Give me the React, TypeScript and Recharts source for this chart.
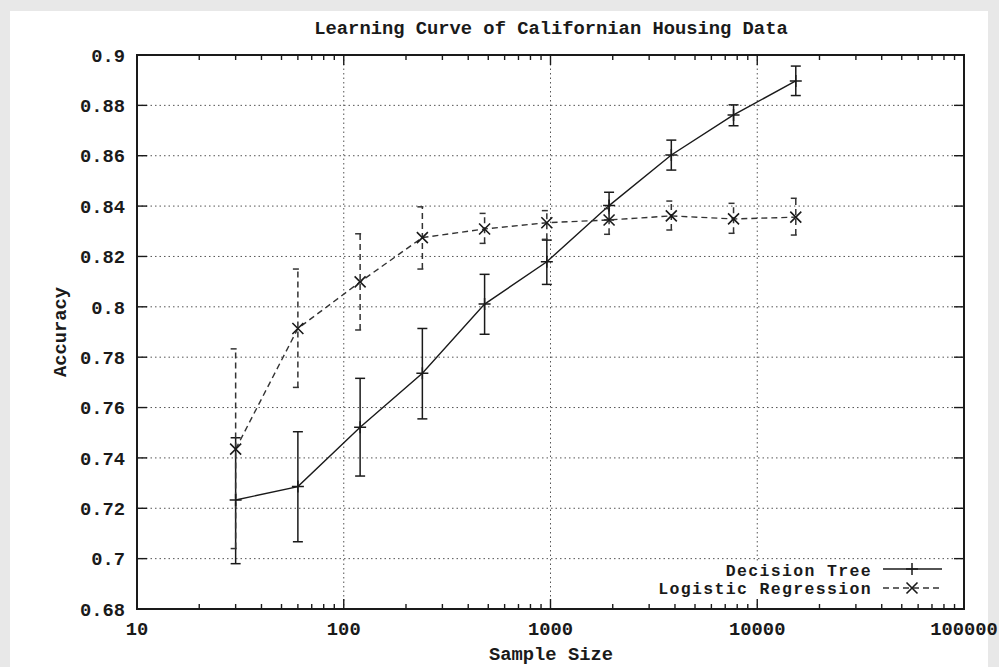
import React from 'react';
import { ComposedChart, Line, XAxis, YAxis, CartesianGrid, ErrorBar, Customized } from 'recharts';

// ---- data ----
const sampleSizes = [30, 60, 120, 240, 480, 960, 1920, 3840, 7680, 15360];
const treeMean = [0.7233, 0.7286, 0.7522, 0.7736, 0.8011, 0.8179, 0.8402, 0.8603, 0.8762, 0.8897];
const treeLow = [0.698, 0.7067, 0.7328, 0.7555, 0.7891, 0.8089, 0.8345, 0.8543, 0.8719, 0.8839];
const treeHigh = [0.748, 0.7504, 0.7716, 0.7914, 0.8129, 0.8265, 0.8455, 0.8662, 0.8802, 0.8956];
const logMean = [0.7435, 0.7914, 0.8099, 0.8275, 0.8309, 0.8334, 0.8345, 0.8361, 0.8349, 0.8356];
const logLow = [0.704, 0.768, 0.7908, 0.815, 0.8252, 0.8268, 0.8288, 0.8305, 0.8292, 0.8285];
const logHigh = [0.7833, 0.815, 0.829, 0.8397, 0.8371, 0.8382, 0.839, 0.842, 0.8411, 0.8431];

const seriesNames = ['Decision Tree', 'Logistic Regression'];
const titleText = 'Learning Curve of Californian Housing Data';
const xLabel = 'Sample Size';
const yLabel = 'Accuracy';

const yTicks = [0.68, 0.7, 0.72, 0.74, 0.76, 0.78, 0.8, 0.82, 0.84, 0.86, 0.88, 0.9];
const xMajor = [10, 100, 1000, 10000, 100000];
const xMinorMultipliers = [2, 3, 4, 5, 6, 7, 8, 9];
const xTicks: number[] = [];
xMajor.forEach((d, i) => {
  xTicks.push(d);
  if (i < xMajor.length - 1) xMinorMultipliers.forEach((m) => xTicks.push(d * m));
});

const data = sampleSizes.map((n, i) => ({
  n,
  dt: treeMean[i],
  dtErr: [treeMean[i] - treeLow[i], treeHigh[i] - treeMean[i]],
  lr: logMean[i],
  lrErr: [logMean[i] - logLow[i], logHigh[i] - logMean[i]],
}));

// ---- layout ----
const W = 999;
const H = 667;
const PL = 137;
const PT = 55;
const PR = 964;
const PB = 609;
const XAXIS_H = 30;
const YAXIS_W = 40;
const M = { top: PT, right: W - PR, left: PL - YAXIS_W, bottom: H - PB - XAXIS_H };
const PW = PR - PL;
const PH = PB - PT;
const FONT = "'Liberation Mono', 'DejaVu Sans Mono', 'Courier New', monospace";
const FS = 18.8;
const INK = '#1a1a1a';

const txt = { fontFamily: FONT, fontWeight: 700, fontSize: FS, fill: INK } as const;

const BottomTick = (props: any) => {
  const { x, y, payload } = props;
  const v = payload.value;
  const major = xMajor.includes(v);
  const len = major ? 10 : 5;
  return (
    <g>
      <line x1={x} y1={y} x2={x} y2={y - len} stroke={INK} strokeWidth={1.4} />
      <line x1={x} y1={y - PH} x2={x} y2={y - PH + len} stroke={INK} strokeWidth={1.4} />
      {major && (
        <text x={x} y={y + 26} textAnchor="middle" {...txt}>
          {String(v)}
        </text>
      )}
    </g>
  );
};

const LeftTick = (props: any) => {
  const { x, y, payload } = props;
  return (
    <g>
      <line x1={x} y1={y} x2={x + 10} y2={y} stroke={INK} strokeWidth={1.4} />
      <line x1={x + PW} y1={y} x2={x + PW - 10} y2={y} stroke={INK} strokeWidth={1.4} />
      <text x={x - 12} y={y} dy="0.36em" textAnchor="end" {...txt}>
        {String(payload.value)}
      </text>
    </g>
  );
};

const plusPath = (cx: number, cy: number, r: number) => `M${cx - r},${cy}H${cx + r}M${cx},${cy - r}V${cy + r}`;
const crossPath = (cx: number, cy: number, r: number) =>
  `M${cx - r},${cy - r}L${cx + r},${cy + r}M${cx - r},${cy + r}L${cx + r},${cy - r}`;

const PlusDot = (p: any) => {
  const { cx, cy, index } = p;
  if (cx == null || cy == null) return <g key={`p${index}`} />;
  return <path key={`p${index}`} d={plusPath(cx, cy, 6)} stroke={INK} strokeWidth={1.5} fill="none" />;
};
const CrossDot = (p: any) => {
  const { cx, cy, index } = p;
  if (cx == null || cy == null) return <g key={`c${index}`} />;
  return <path key={`c${index}`} d={crossPath(cx, cy, 5.5)} stroke={INK} strokeWidth={1.6} fill="none" />;
};

const legTxt = { ...txt, fontSize: 16.5, letterSpacing: 1.35 } as const;

const Overlay = () => {
  const lx = 872;
  const sx1 = 883;
  const sx2 = 942;
  const mx = 912;
  return (
    <g>
      <rect x={PL} y={PT} width={PW} height={PH} fill="none" stroke={INK} strokeWidth={2} />
      <text x={551} y={34} textAnchor="middle" {...txt}>
        {titleText}
      </text>
      <text x={551} y={660} textAnchor="middle" {...txt}>
        {xLabel}
      </text>
      <text x={66} y={332} textAnchor="middle" transform="rotate(-90, 66, 332)" {...txt}>
        {yLabel}
      </text>
      {/* legend */}
      <rect x={645} y={561} width={305} height={40} fill="#fff" />
      <text x={lx} y={576} textAnchor="end" {...legTxt}>
        {seriesNames[0]}
      </text>
      <line x1={sx1} y1={569} x2={sx2} y2={569} stroke={INK} strokeWidth={1.4} />
      <path d={plusPath(mx, 569, 6)} stroke={INK} strokeWidth={1.5} />
      <text x={lx} y={594} textAnchor="end" {...legTxt}>
        {seriesNames[1]}
      </text>
      <line x1={sx1} y1={588} x2={sx2} y2={588} stroke="#333" strokeWidth={1.4} strokeDasharray="6 4" />
      <path d={crossPath(mx, 588, 5.5)} stroke={INK} strokeWidth={1.6} />
    </g>
  );
};

export default function App() {
  return (
    <div style={{ position: 'absolute', left: 0, top: 0, width: W, height: H, background: '#e8e8e8', overflow: 'hidden' }}>
      <div style={{ position: 'absolute', left: 10, top: 11, width: 978, height: H - 11, background: '#fff' }} />
      <div style={{ position: 'absolute', left: 0, top: 0 }}>
        <ComposedChart width={W} height={H} data={data} margin={M}>
          <CartesianGrid
            horizontalValues={yTicks.slice(1, -1)}
            verticalValues={xMajor.slice(1, -1)}
            stroke="#555"
            strokeWidth={1}
            strokeDasharray="1.5 3"
          />
          <XAxis
            dataKey="n"
            type="number"
            scale="log"
            domain={[10, 100000]}
            allowDataOverflow
            ticks={xTicks}
            interval={0}
            height={XAXIS_H}
            axisLine={false}
            tickLine={false}
            tickSize={0}
            tickMargin={0}
            tick={<BottomTick />}
          />
          <YAxis
            type="number"
            domain={[0.68, 0.9]}
            allowDataOverflow
            ticks={yTicks}
            interval={0}
            width={YAXIS_W}
            axisLine={false}
            tickLine={false}
            tickSize={0}
            tickMargin={0}
            tick={<LeftTick />}
          />
          <Customized component={Overlay} />
          <Line
            dataKey="dt"
            name={seriesNames[0]}
            stroke={INK}
            strokeWidth={1.4}
            dot={PlusDot}
            activeDot={false}
            isAnimationActive={false}
          >
            <ErrorBar dataKey="dtErr" direction="y" width={5} stroke={INK} strokeWidth={1.5} />
          </Line>
          <Line
            dataKey="lr"
            name={seriesNames[1]}
            stroke="#333"
            strokeWidth={1.4}
            strokeDasharray="6 4"
            dot={CrossDot}
            activeDot={false}
            isAnimationActive={false}
          >
            <ErrorBar dataKey="lrErr" direction="y" width={5} stroke="#333" strokeWidth={1.5} strokeDasharray="6 4" />
          </Line>
        </ComposedChart>
      </div>
    </div>
  );
}
